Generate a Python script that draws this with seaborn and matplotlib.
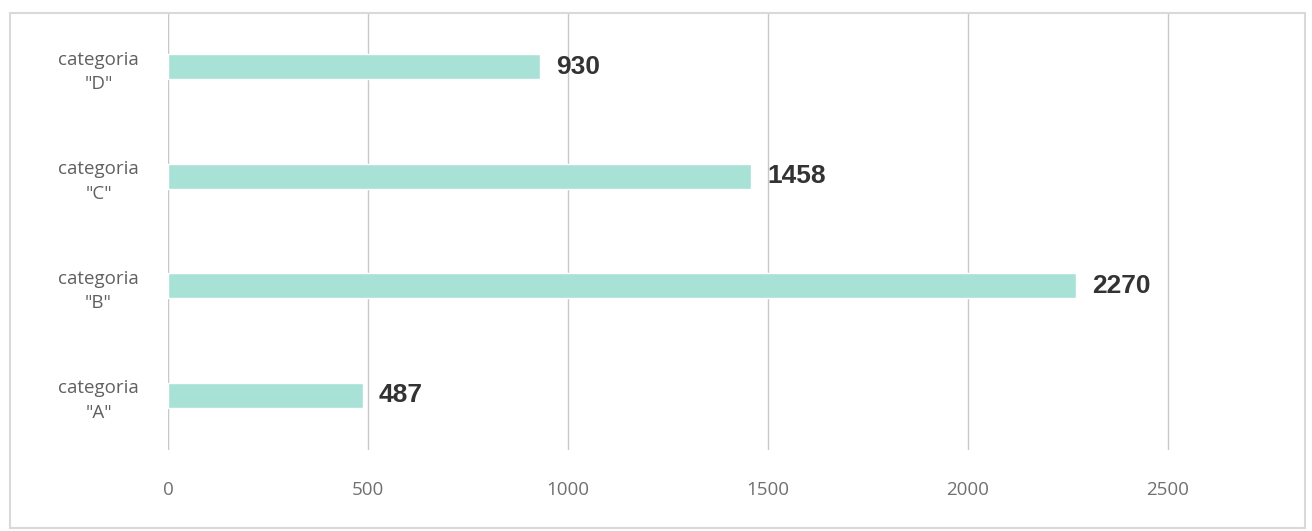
import matplotlib
matplotlib.use("Agg")
import matplotlib.pyplot as plt
from matplotlib.patches import Rectangle
import seaborn as sns
import pandas as pd

categories = ['categoria\n"D"', 'categoria\n"C"', 'categoria\n"B"', 'categoria\n"A"']
values = [930, 1458, 2270, 487]
xticks = [0, 500, 1000, 1500, 2000, 2500]

df = pd.DataFrame({'cat': categories, 'val': values})

sns.set_style('white')
plt.rcParams['font.family'] = ['Open Sans', 'DejaVu Sans']

fig = plt.figure(figsize=(13.12, 5.31), dpi=100)
ax = fig.add_axes([168 / 1312, 1 - 450 / 531, 1120 / 1312, 438 / 531])

sns.barplot(data=df, x='val', y='cat', color='#a8e2d6', saturation=1,
            width=0.23, ax=ax)

for i, v in enumerate(values):
    ax.text(v + 40, i, str(v), va='center', ha='left', fontsize=19,
            fontweight='bold', color='#333333', family='Liberation Sans')

ax.set_xlim(0, 2800)
ax.set_ylim(3.5, -0.5)
ax.set_xticks(xticks)
ax.set_xlabel('')
ax.set_ylabel('')
ax.grid(axis='x', color='#c8c8c8', linewidth=1)
ax.set_axisbelow(True)
for s in ax.spines.values():
    s.set_visible(False)
ax.axvline(0, color='#bdbdbd', linewidth=1.5, zorder=0)
ax.tick_params(axis='x', length=0, pad=22, labelsize=13.5, labelcolor='#707070')
ax.tick_params(axis='y', length=0, labelsize=13.5, labelcolor='#606060')
for lab in ax.get_yticklabels():
    lab.set_horizontalalignment('center')
    lab.set_multialignment('center')
    lab.set_linespacing(1.45)
ax.yaxis.set_tick_params(pad=50)

fig.patches.append(Rectangle((10 / 1312, 3 / 531), 1295 / 1312, 515 / 531,
                             transform=fig.transFigure, fill=False,
                             edgecolor='#d9d9d9', linewidth=1.5))

fig.savefig('out.png', dpi=100)
